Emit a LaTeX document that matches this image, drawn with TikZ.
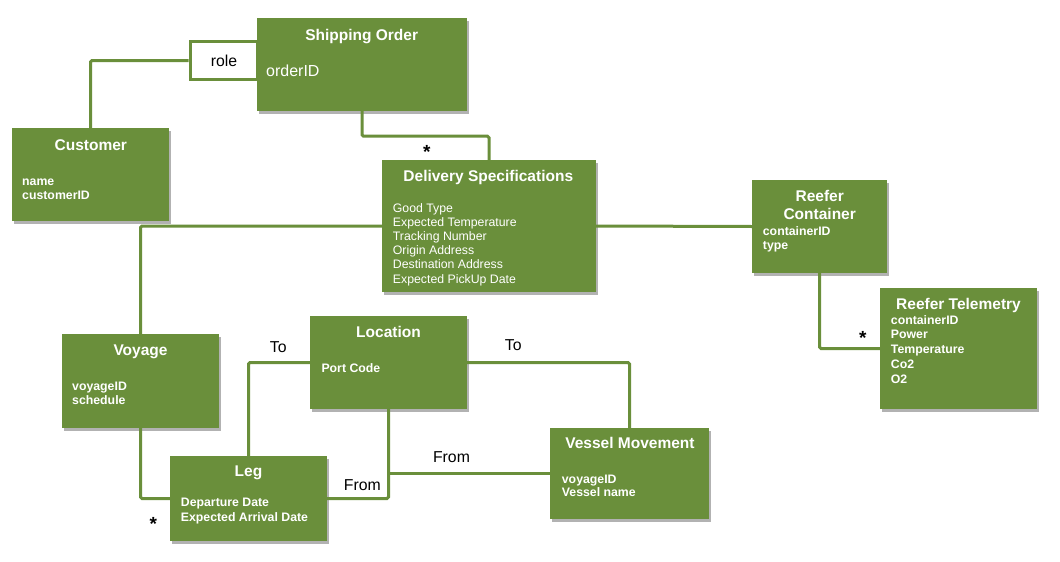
\documentclass[tikz,border=0pt]{standalone}
\usepackage{fontspec}
\setmainfont{Liberation Sans}
\usetikzlibrary{shadows}
\definecolor{boxgreen}{HTML}{6A8F3B}
\begin{document}
\begin{tikzpicture}[x=1pt,y=-1pt,
  box/.style={fill=boxgreen, draw=none, inner sep=0, anchor=center,
    drop shadow={shadow xshift=2pt, shadow yshift=-3pt, opacity=0.3, fill=black}},
  title/.style={text=white, font=\fontsize{15.5}{18}\selectfont\bfseries, anchor=base, inner sep=0},
  titlemulti/.style={text=white, font=\fontsize{15.5}{18}\selectfont\bfseries, anchor=north, align=center, inner sep=0},
  attr/.style={text=white, font=\fontsize{12.3}{14.2}\selectfont\bfseries, anchor=north west, align=left, inner sep=0},
  attrreg/.style={text=white, font=\fontsize{12.3}{14.2}\selectfont, anchor=north west, align=left, inner sep=0},
  conn/.style={draw=boxgreen, line width=3pt, rounded corners=1.5pt},
  lbl/.style={font=\fontsize{15.8}{18}\selectfont, anchor=base, inner sep=0},
  star/.style={font=\fontsize{19}{20}\selectfont\bfseries, anchor=base, inner sep=0}]
\useasboundingbox (0,0) rectangle (1060,562);

% boxes
\node[box, minimum width=210pt, minimum height=93pt] (SO) at (362,64.5) {};
\node[box, minimum width=157pt, minimum height=93pt] (CU) at (90.5,174.5) {};
\node[box, minimum width=214pt, minimum height=132pt] (DS) at (489,226) {};
\node[box, minimum width=135pt, minimum height=93pt] (RC) at (819.5,226.5) {};
\node[box, minimum width=157pt, minimum height=121pt] (RT) at (958.5,348.5) {};
\node[box, minimum width=157pt, minimum height=94pt] (VO) at (140.5,381) {};
\node[box, minimum width=157pt, minimum height=93pt] (LO) at (388.5,362.5) {};
\node[box, minimum width=157pt, minimum height=85pt] (LE) at (248.5,498.5) {};
\node[box, minimum width=159pt, minimum height=91pt] (VM) at (629.5,473.5) {};

% role qualifier box
\node[draw=boxgreen, line width=3pt, fill=white, minimum width=67pt, minimum height=38pt, inner sep=0] (role) at (223.5,60.5) {};
\node[lbl] (roleT) at (224,66) {role};

% titles
\node[title] (SOt) at (361.7,40) {Shipping Order};
\node[title] (CUt) at (90.8,150) {Customer};
\node[title] (DSt) at (488.3,181.7) {Delivery Specifications};
\node[titlemulti] (RCt) at (819.7,190) {Reefer\\Container};
\node[title] (RTt) at (958.5,309.3) {Reefer Telemetry};
\node[title] (VOt) at (140.5,355) {Voyage};
\node[title] (LOt) at (388.5,337.7) {Location};
\node[title] (LEt) at (248.5,476.7) {Leg};
\node[title] (VMt) at (630,448.7) {Vessel Movement};

% attributes
\node[attrreg, font=\fontsize{16}{18}\selectfont, anchor=base west] (SOa) at (266,76) {orderID};
\node[attr, font=\fontsize{12.3}{14}\selectfont\bfseries] (CUa) at (22,175.2) {\strut name\\customerID};
\node[attrreg] (DSa) at (392.7,202) {\strut Good Type\\Expected Temperature\\Tracking Number\\Origin Address\\Destination Address\\Expected PickUp Date};
\node[attr, font=\fontsize{12.3}{13.5}\selectfont\bfseries] (RCa) at (762.7,226.3) {\strut containerID\\type};
\node[attr, font=\fontsize{12.3}{14.8}\selectfont\bfseries] (RTa) at (890.7,313.6) {\strut containerID\\Power\\Temperature\\Co2\\O2};
\node[attr] (VOa) at (72,380) {\strut voyageID\\schedule};
\node[attr, anchor=base west] (LOa) at (321.3,372.3) {Port Code};
\node[attr] (LEa) at (180.7,496.8) {\strut Departure Date\\Expected Arrival Date};
\node[attr, font=\fontsize{12.3}{13.5}\selectfont\bfseries] (VMa) at (561.7,473.8) {\strut voyageID\\Vessel name};

% connectors
\draw[conn] (CU.north) |- (role.west);
\draw[conn] (SO.south) -- ++(0,25) -| (DS.north);
\draw[conn] (DS.west) -| (VO.north);
\draw[conn] (DS.east) -- (RC.west);
\draw[conn] (RC.south) |- (RT.west);
\draw[conn] (VO.south) |- (LE.west);
\draw[conn] (LE.north) |- (LO.west);
\draw[conn] (LE.east) -| (LO.south);
\draw[conn] (LO.east) -| (VM.north);
\coordinate (J) at (LO.south |- VM.west);
\draw[conn] (J) -- (VM.west);

% labels
\node[star] (s1) at (426.7,158.2) {*};
\node[star] (s2) at (862.7,344.9) {*};
\node[star] (s3) at (153.3,530.9) {*};
\node[lbl] (to1) at (278.3,352.7) {To};
\node[lbl] (to2) at (513.3,350.7) {To};
\node[lbl] (fr1) at (362.3,490.7) {From};
\node[lbl] (fr2) at (451.5,462.7) {From};
\end{tikzpicture}
\end{document}
